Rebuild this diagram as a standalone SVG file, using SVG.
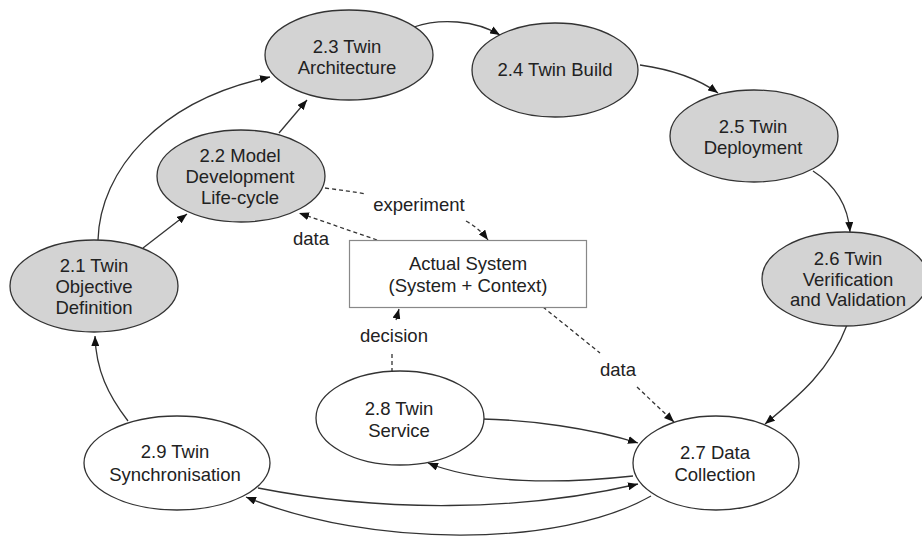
<svg xmlns="http://www.w3.org/2000/svg" width="922" height="536" viewBox="0 0 922 536">
<defs>
<marker id="ah" viewBox="0 0 10 8" refX="10" refY="4" markerWidth="10" markerHeight="8" markerUnits="userSpaceOnUse" orient="auto">
<path d="M0,0 L10,4 L0,8 Z" fill="#111"/>
</marker>
</defs>
<style>
.n ellipse{stroke:#333;stroke-width:1.3}
.g ellipse{fill:#d3d3d3}
.w ellipse{fill:#fff}
text{font-family:"Liberation Sans",Arial,Helvetica,sans-serif;font-size:18.5px;fill:#222;text-anchor:middle}
.e{fill:none;stroke:#333;stroke-width:1.3}
.d{stroke-dasharray:4 3}
.m{marker-end:url(#ah)}
</style>
<rect width="922" height="536" fill="#fff"/>
<g id="connectors">
<path class="e m" d="M143,248 L187,214"/>
<path class="e m" d="M98,240 C100,170 160,100 270,77"/>
<path class="e m" d="M279,133 L307,100"/>
<path class="e m" d="M414,27 C440,18 475,20 500,35"/>
<path class="e m" d="M640,65 C675,70 700,80 718,93"/>
<path class="e m" d="M813,171 C835,185 848,205 850,232"/>
<path class="e m" d="M847,325 C830,370 800,395 765,424"/>
<path class="e d" d="M543,307 L600,353"/>
<path class="e d m" d="M637,387 L674,422"/>
<path class="e d" d="M325,188 C340,190 355,192 366,194"/>
<path class="e d m" d="M466,221 C475,226 482,232 488,240"/>
<path class="e d m" d="M377,240 L299,213"/>
<path class="e d" d="M392,372 L392,352"/>
<path class="e m" d="M396,320 L399,309"/>
<path class="e m" d="M482,419 C530,420 590,428 638,443"/>
<path class="e m" d="M633,476 C560,484 480,484 428,463"/>
<path class="e m" d="M258,488 C380,512 520,512 638,484"/>
<path class="e m" d="M651,496 C560,548 370,548 246,497"/>
<path class="e m" d="M128,421 C108,395 96,370 95,336"/>
<text x="419" y="211">experiment</text>
<text x="311" y="245">data</text>
<text x="394" y="342">decision</text>
<text x="618" y="376">data</text>
</g>
<g id="n21" class="n g"><ellipse cx="94" cy="286" rx="84" ry="46"/><text x="94" y="272">2.1 Twin</text><text x="94" y="293">Objective</text><text x="94" y="314">Definition</text></g>
<g id="n22" class="n g"><ellipse cx="241" cy="176" rx="84" ry="46"/><text x="240" y="162">2.2 Model</text><text x="240" y="183">Development</text><text x="240" y="204">Life-cycle</text></g>
<g id="n23" class="n g"><ellipse cx="349" cy="55" rx="84" ry="45"/><text x="347" y="53">2.3 Twin</text><text x="347" y="74">Architecture</text></g>
<g id="n24" class="n g"><ellipse cx="555" cy="70" rx="83" ry="47"/><text x="555" y="76">2.4 Twin Build</text></g>
<g id="n25" class="n g"><ellipse cx="754" cy="136" rx="84" ry="46"/><text x="753" y="133">2.5 Twin</text><text x="753" y="154">Deployment</text></g>
<g id="n26" class="n g"><ellipse cx="845" cy="279" rx="83" ry="47"/><text x="848" y="265">2.6 Twin</text><text x="848" y="286">Verification</text><text x="848" y="306">and Validation</text></g>
<g id="n27" class="n w"><ellipse cx="716" cy="463" rx="83" ry="47"/><text x="715" y="459">2.7 Data</text><text x="715" y="481">Collection</text></g>
<g id="n28" class="n w"><ellipse cx="400" cy="418" rx="84" ry="47"/><text x="399" y="415">2.8 Twin</text><text x="399" y="437">Service</text></g>
<g id="n29" class="n w"><ellipse cx="177" cy="463" rx="93" ry="47"/><text x="175" y="458">2.9 Twin</text><text x="175" y="481">Synchronisation</text></g>
<g id="actual"><rect x="349.5" y="240.5" width="237" height="67" fill="#fff" stroke="#888" stroke-width="1.2"/><text x="468" y="270">Actual System</text><text x="468" y="292">(System + Context)</text></g>
</svg>
